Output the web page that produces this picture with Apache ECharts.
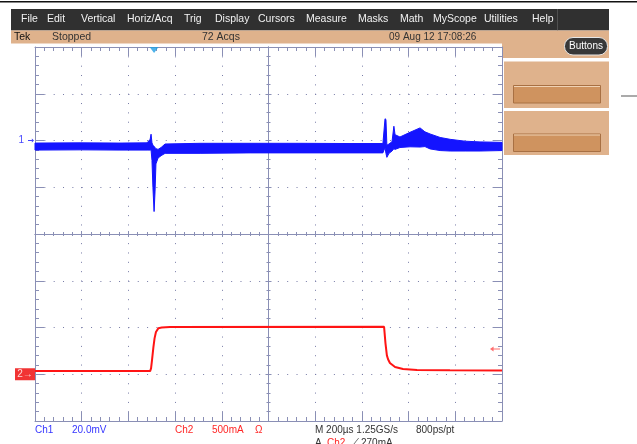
<!DOCTYPE html>
<html>
<head>
<meta charset="utf-8">
<title>Tek capture</title>
<script src="https://cdn.jsdelivr.net/npm/echarts@6/dist/echarts.min.js"></script>
<style>
  html, body { margin: 0; padding: 0; background: #fff; }
  #scope { width: 637px; height: 444px; }
</style>
</head>
<body>
<div id="scope"></div>
<script>
// horizontal: 200 us/div over 10 div, vertical: 8 div
const CH1_SCALE = 20;   // mV/div
const CH1_POS = 2;      // div
const CH2_SCALE = 500;  // mA/div
const CH2_POS = -3;     // div
const TRIG_TIME = -490; // us
const TRIG_LEVEL = 270; // mA

// Ch1 noisy band, upper / lower envelope (mV)
const ch1Time  = [-1000, -807, -636, -520, -507, -503, -499, -495, -490, -486, -482, -473, -460, -443, -293, -79, 135, 349, 490, 499, 503, 507, 516, 529, 537, 542, 563, 606, 649, 670, 692, 735, 778, 842, 906, 1000];
const ch1Upper = [-1.1, -1.0, -1.1, -1.0, 0.5, 2.7, -1.0, -2.0, -2.5, -3.0, -3.5, -3.8, -3.0, -1.5, -1.2, -1.2, -1.2, -1.3, -1.3, 9.3, 9.0, -2.0, -1.5, -0.5, 6.1, 2.5, 1.5, 3.5, 5.4, 3.7, 2.8, 1.3, 0.5, -0.3, -0.6, -0.8];
const ch1Lower = [-4.1, -4.0, -4.1, -4.1, -4.1, -4.0, -8.5, -20, -30.4, -22, -10, -7.5, -6.5, -5.5, -5.5, -5.3, -5.3, -5.3, -5.3, -3.0, -5.5, -7.2, -5.5, -4.5, -3.5, -3.8, -3.0, -2.7, -2.8, -2.6, -3.6, -4.3, -4.5, -4.5, -4.5, -4.3];

// Ch2 current (mA)
const ch2Time    = [-1000, -507, -503, -499, -493, -488, -482, -472, -457, -422, 495, 501, 507, 512, 520, 542, 576, 636, 777, 1000];
const ch2Current = [34, 34, 63, 149, 288, 384, 452, 491, 499, 505, 507, 331, 202, 160, 120, 77, 56, 45, 42, 39];

const menuItems = ['File', 'Edit', 'Vertical', 'Horiz/Acq', 'Trig', 'Display', 'Cursors', 'Measure', 'Masks', 'Math', 'MyScope', 'Utilities', 'Help'];
const menuX     = [21, 47, 81, 127, 184, 215, 258, 306, 358, 400, 433, 484, 532];

const BLUE = '#1414ff';
const RED = '#ff1414';
const GRID = '#8a8fb5';
const TAN = '#dfb28c';
const FONT = '"Liberation Sans", Arial, sans-serif';

const toDiv1 = v => v / CH1_SCALE + CH1_POS;
const toDiv2 = v => v / CH2_SCALE + CH2_POS;

function txt(x, y, s, color, size, extra) {
  return Object.assign({
    type: 'text', x: x, y: y, silent: true,
    style: { text: s, fill: color, font: (size || 10) + 'px ' + FONT, verticalAlign: 'middle', textVerticalAlign: 'middle' }
  }, extra || {});
}
function box(x, y, w, h, fill, extra) {
  return Object.assign({ type: 'rect', silent: true, shape: { x: x, y: y, width: w, height: h }, style: { fill: fill } }, extra || {});
}
function seg(x1, y1, x2, y2, color) {
  return { type: 'line', silent: true, shape: { x1: x1, y1: y1, x2: x2, y2: y2 }, style: { stroke: color, lineWidth: 1 } };
}

const graphics = [
  box(0, 1, 637, 1.5, '#111'),
  box(11, 9, 598, 21.5, '#303030'),
  seg(557.5, 9, 557.5, 30.5, '#505050'),
  box(11, 30.5, 491, 13, TAN),
  box(502, 30.5, 107, 27.5, TAN),
  box(564.5, 37.5, 43, 17.5, '#383838', { shape: { x: 564.5, y: 37.5, width: 43, height: 17.5, r: 8.5 }, style: { fill: '#383838', stroke: '#e6e6e6', lineWidth: 1 } }),
  txt(586, 46.5, 'Buttons', '#fff', 10, { style: { text: 'Buttons', fill: '#fff', font: '10px ' + FONT, align: 'center', textAlign: 'center', verticalAlign: 'middle', textVerticalAlign: 'middle' } }),
  box(504, 61.5, 105, 46.5, TAN),
  box(513.5, 85.5, 87, 17.5, '#cf935f', { style: { fill: '#cf935f', stroke: '#a87043', lineWidth: 1 } }),
  seg(514, 86.5, 600, 86.5, '#f0d2b4'),
  box(504, 111, 105, 44, TAN),
  box(513.5, 134, 87, 17.5, '#cf935f', { style: { fill: '#cf935f', stroke: '#a87043', lineWidth: 1 } }),
  seg(514, 135, 600, 135, '#f0d2b4'),
  box(621, 95.5, 16, 1, '#555'),
  txt(14, 37.5, 'Tek', '#111', 10.5),
  txt(52, 37.5, 'Stopped', '#333', 10.5),
  txt(202, 37.5, '72 Acqs', '#333', 10.5),
  txt(389, 37.5, '09 Aug 12 17:08:26', '#333', 10),
  txt(35, 430.5, 'Ch1', '#3535ff', 10),
  txt(72, 430.5, '20.0mV', '#3535ff', 10),
  txt(175, 430.5, 'Ch2', '#ff2525', 10),
  txt(212, 430.5, '500mA', '#ff2525', 10),
  txt(255, 430.5, 'Ω', '#ff2525', 10),
  txt(315, 430.5, 'M 200µs 1.25GS/s', '#333', 10),
  txt(416, 430.5, '800ps/pt', '#333', 10),
  txt(315, 443.5, 'A', '#333', 10),
  txt(327, 443.5, 'Ch2', '#ff2525', 10),
  txt(352, 443.5, '⟋', '#333', 10),
  txt(361, 443.5, '270mA', '#333', 10)
];
menuItems.forEach((m, i) => {
  graphics.push(txt(menuX[i], 19.5, m, '#f2f2f2', 10.5));
});

function xAx(pos, onZero, inside, major, minor, split) {
  return {
    type: 'value', min: -1000, max: 1000, interval: 200, position: pos,
    axisLine: { show: true, onZero: onZero, lineStyle: { color: GRID, width: 1 } },
    axisTick: { show: true, inside: inside, length: major, lineStyle: { color: GRID } },
    minorTick: { show: true, splitNumber: 5, length: minor, lineStyle: { color: GRID } },
    axisLabel: { show: false },
    splitLine: { show: split, lineStyle: { color: '#767aa6', width: 1, type: [1, 8.34] } }
  };
}
function yAx(pos, onZero, inside, major, minor, split) {
  return {
    type: 'value', min: -4, max: 4, interval: 1, position: pos,
    axisLine: { show: true, onZero: onZero, lineStyle: { color: GRID, width: 1 } },
    axisTick: { show: true, inside: inside, length: major, lineStyle: { color: GRID } },
    minorTick: { show: true, splitNumber: 5, length: minor, lineStyle: { color: GRID } },
    axisLabel: { show: false },
    splitLine: { show: split, lineStyle: { color: '#767aa6', width: 1, type: [1, 8.34] } }
  };
}

// Ch1 drawn as a filled envelope between upper and lower readings
function renderBand(params, api) {
  const top = ch1Time.map((t, i) => api.coord([t, toDiv1(ch1Upper[i])]));
  const bot = ch1Time.map((t, i) => api.coord([t, toDiv1(ch1Lower[i])])).reverse();
  return {
    type: 'polygon',
    shape: { points: top.concat(bot) },
    style: { fill: BLUE, stroke: BLUE, lineWidth: 1 }
  };
}

const chart = echarts.init(document.getElementById('scope'), null, { renderer: 'canvas' });
chart.setOption({
  animation: false,
  backgroundColor: '#fff',
  grid: { left: 35, top: 47, width: 467, height: 374, containLabel: false, outerBoundsMode: 'none' },
  graphic: graphics,
  xAxis: [
    xAx('bottom', false, true, 9, 4, true),
    xAx('top', false, true, 9, 4, false),
    xAx('bottom', true, true, 3, 2, false),
    xAx('bottom', true, false, 3, 2, false)
  ],
  yAxis: [
    yAx('left', false, true, 9, 4, true),
    yAx('right', false, true, 9, 4, false),
    yAx('left', true, true, 3, 2, false),
    yAx('left', true, false, 3, 2, false)
  ],
  series: [
    {
      name: 'Ch1', type: 'custom', z: 3, silent: true,
      data: [[ch1Time[0], toDiv1(ch1Upper[0])]],
      renderItem: renderBand
    },
    {
      name: 'Ch2', type: 'line', showSymbol: false, z: 4,
      data: ch2Time.map((t, i) => [t, toDiv2(ch2Current[i])]),
      lineStyle: { color: RED, width: 2 }
    },
    {
      name: 'markers', type: 'scatter', clip: false, z: 5, silent: true,
      data: [
        { value: [TRIG_TIME, 4], symbol: 'triangle', symbolRotate: 180, symbolSize: [9, 6], symbolOffset: [0, 3], itemStyle: { color: '#1f9fe3' } },
        { value: [970, toDiv2(TRIG_LEVEL)], symbol: 'path://M0,5 L5,0 L5,4 L14,4 L14,6 L5,6 L5,10 Z', symbolSize: [10, 5], itemStyle: { color: '#ff4a4a' } },
        { value: [-1000, CH1_POS], symbol: 'path://M14,5 L9,0 L9,4 L0,4 L0,6 L9,6 L9,10 Z', symbolSize: [6, 4], symbolOffset: [-4, 0], itemStyle: { color: BLUE },
          label: { show: true, formatter: '1', position: 'left', distance: 4, color: BLUE, fontSize: 10, fontFamily: FONT } },
        { value: [-1000, CH2_POS], symbol: 'rect', symbolSize: [20, 12], symbolOffset: [-10, 0], itemStyle: { color: '#ee0000' },
          label: { show: true, formatter: '2→', position: 'inside', color: '#fff', fontSize: 10, fontFamily: FONT } }
      ]
    }
  ]
});
</script>
</body>
</html>
